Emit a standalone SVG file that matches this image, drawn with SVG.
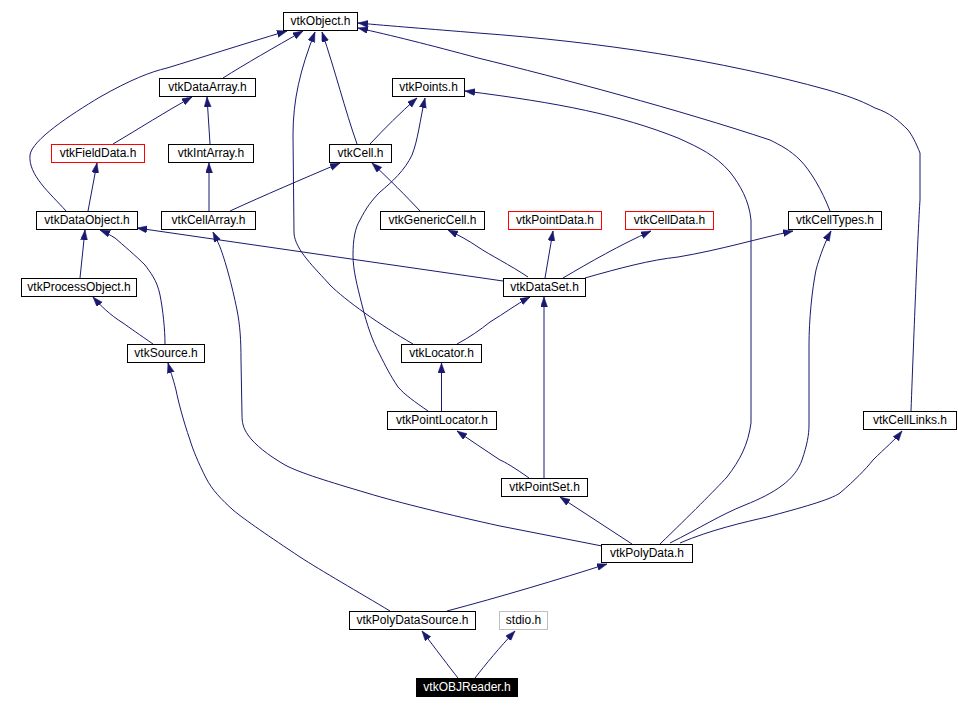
<svg xmlns="http://www.w3.org/2000/svg" width="958" height="709" viewBox="0 0 958 709">
<style>
.n rect{fill:#fff;stroke:#000;stroke-width:1}
.n rect.red{stroke:#ff0000}
.n rect.grey{stroke:#bfbfbf}
.n rect.main{fill:#000;stroke:#000}
.n text{font-family:"Liberation Sans",Arial,sans-serif;font-size:12px;fill:#000;text-anchor:middle}
.n text.main{fill:#fff}
.e path{fill:none;stroke:#191970;stroke-width:1;marker-end:url(#ah)}
</style>
<defs>
<marker id="ah" markerUnits="userSpaceOnUse" markerWidth="11" markerHeight="8" refX="10" refY="3.5" orient="auto">
<path d="M0,0 L10,3.5 L0,7 z" fill="#191970" stroke="#191970" stroke-width="0.5"/>
</marker>
</defs>
<rect width="958" height="709" fill="#fff"/>
<g id="edges" class="e">
<path d="M223,78 C245,64 275,47 303,31"/>
<path d="M66,211 C50,193 28,175 30,155 C32,140 70,115 100,97 C130,80 150,72 167,68 C200,58 240,45 287,31"/>
<path d="M413,344 C380,325 345,300 330,285 C315,268 295,250 294,233 L293,135 C293,100 300,70 315,32"/>
<path d="M357,144 C345,110 335,70 322,32"/>
<path d="M911,411 C914,330 918,230 920,200 L920,153 C916,143 912,135 908,130 C898,120 890,113 875,108 C860,100 845,95 828,90 C720,60 600,42 478,33 C430,29 390,26 358,23"/>
<path d="M830,211 C822,190 810,170 800,160 C790,150 780,145 770,140 C680,110 560,78 478,58 C430,45 390,35 358,28"/>
<path d="M660,544 C690,515 715,490 727,477 C740,460 748,445 751,423 L751,220 C749,200 740,185 730,172 C715,155 700,148 678,138 C620,115 560,103 465,91"/>
<path d="M670,543 C700,528 720,515 745,505 C775,493 795,480 802,460 C807,445 809,435 809,425 L809,345 C809,320 812,290 816,270 C820,255 826,240 831,231"/>
<path d="M680,543 C710,530 745,522 767,517 C800,508 830,500 840,493 C855,480 865,470 873,460 C885,448 895,440 902,431"/>
<path d="M632,544 L560,497"/>
<path d="M602,546 L500,526 C450,515 400,503 367,493 C330,482 300,473 285,465 C268,455 255,445 248,435 C243,428 242,422 242,415 L241,360 C241,340 240,325 237,310 C232,285 225,260 220,247 C217,240 215,236 213,232"/>
<path d="M447,611 C500,597 560,579 607,564"/>
<path d="M390,611 C360,593 320,570 300,557 C270,537 245,520 233,510 C222,500 212,490 206,478 C198,462 193,450 190,440 C183,420 178,400 176,390 C173,378 170,370 168,363"/>
<path d="M458,678 C450,668 435,648 422,631"/>
<path d="M475,678 C485,665 500,647 515,631"/>
<path d="M529,478 C515,468 505,462 500,460 C485,450 470,440 457,431"/>
<path d="M544,478 L544,297"/>
<path d="M441.5,411 L441.5,363"/>
<path d="M428,411 C415,402 405,395 398,387 C390,375 385,365 380,355 C372,340 367,325 362,305 C357,285 353,270 353,255 C353,240 355,228 360,220 C366,208 372,200 380,192 C392,182 405,170 412,155 C418,140 420,120 425,98"/>
<path d="M370,144 C385,128 400,113 417,98"/>
<path d="M113,144 C140,128 165,112 192,97"/>
<path d="M210,144 L207,97"/>
<path d="M88,211 L97,163"/>
<path d="M209,211 L209,163"/>
<path d="M230,211 C265,195 300,180 340,163"/>
<path d="M420,211 C405,195 390,180 372,163"/>
<path d="M503,281 L137,228"/>
<path d="M528,277 C510,265 490,255 478,247 C468,240 458,235 448,230"/>
<path d="M545,278 L553,231"/>
<path d="M563,278 C590,262 620,245 651,231"/>
<path d="M585,278 C620,268 650,260 678,257 C720,250 760,238 793,231"/>
<path d="M457,344 C470,337 480,330 490,322 C505,313 515,305 530,297"/>
<path d="M80,278 L85,230"/>
<path d="M153,344 C140,335 130,328 123,323 C110,315 100,305 93,297"/>
<path d="M165,344 C165,330 163,310 160,295 C157,280 150,272 145,265 C135,255 123,245 115,238 C110,235 105,232 100,230"/>
</g>
<g id="vtkObject" class="n"><rect x="283.5" y="12.5" width="74" height="18"/><text x="320.5" y="25">vtkObject.h</text></g>
<g id="vtkDataArray" class="n"><rect x="159.5" y="78.5" width="96" height="18"/><text x="207.5" y="91">vtkDataArray.h</text></g>
<g id="vtkPoints" class="n"><rect x="392.5" y="78.5" width="72" height="18"/><text x="428.5" y="91">vtkPoints.h</text></g>
<g id="vtkFieldData" class="n"><rect class="red" x="51.5" y="144.5" width="93" height="18"/><text x="98" y="157">vtkFieldData.h</text></g>
<g id="vtkIntArray" class="n"><rect x="168.5" y="144.5" width="85" height="18"/><text x="211" y="157">vtkIntArray.h</text></g>
<g id="vtkCell" class="n"><rect x="329.5" y="144.5" width="62" height="18"/><text x="360.5" y="157">vtkCell.h</text></g>
<g id="vtkDataObject" class="n"><rect x="36.5" y="211.5" width="101" height="18"/><text x="87" y="224">vtkDataObject.h</text></g>
<g id="vtkCellArray" class="n"><rect x="161.5" y="211.5" width="94" height="18"/><text x="208.5" y="224">vtkCellArray.h</text></g>
<g id="vtkGenericCell" class="n"><rect x="380.5" y="211.5" width="104" height="18"/><text x="432.5" y="224">vtkGenericCell.h</text></g>
<g id="vtkPointData" class="n"><rect class="red" x="508.5" y="211.5" width="93" height="18"/><text x="555" y="224">vtkPointData.h</text></g>
<g id="vtkCellData" class="n"><rect class="red" x="625.5" y="211.5" width="88" height="18"/><text x="669.5" y="224">vtkCellData.h</text></g>
<g id="vtkCellTypes" class="n"><rect x="788.5" y="211.5" width="93" height="18"/><text x="835" y="224">vtkCellTypes.h</text></g>
<g id="vtkProcessObject" class="n"><rect x="21.5" y="278.5" width="115" height="18"/><text x="79" y="291">vtkProcessObject.h</text></g>
<g id="vtkDataSet" class="n"><rect x="503.5" y="278.5" width="82" height="18"/><text x="544.5" y="291">vtkDataSet.h</text></g>
<g id="vtkSource" class="n"><rect x="127.5" y="344.5" width="77" height="18"/><text x="166" y="357">vtkSource.h</text></g>
<g id="vtkLocator" class="n"><rect x="401.5" y="344.5" width="80" height="18"/><text x="441.5" y="357">vtkLocator.h</text></g>
<g id="vtkPointLocator" class="n"><rect x="387.5" y="411.5" width="109" height="18"/><text x="442" y="424">vtkPointLocator.h</text></g>
<g id="vtkCellLinks" class="n"><rect x="863.5" y="411.5" width="93" height="18"/><text x="910" y="424">vtkCellLinks.h</text></g>
<g id="vtkPointSet" class="n"><rect x="501.5" y="478.5" width="86" height="18"/><text x="544.5" y="491">vtkPointSet.h</text></g>
<g id="vtkPolyData" class="n"><rect x="601.5" y="544.5" width="91" height="18"/><text x="647" y="557">vtkPolyData.h</text></g>
<g id="vtkPolyDataSource" class="n"><rect x="349.5" y="611.5" width="126" height="18"/><text x="412.5" y="624">vtkPolyDataSource.h</text></g>
<g id="stdio" class="n"><rect class="grey" x="499.5" y="611.5" width="48" height="18"/><text x="523.5" y="624">stdio.h</text></g>
<g id="vtkOBJReader" class="n"><rect class="main" x="416.5" y="678.5" width="101" height="18"/><text class="main" x="467" y="691">vtkOBJReader.h</text></g>
</svg>
